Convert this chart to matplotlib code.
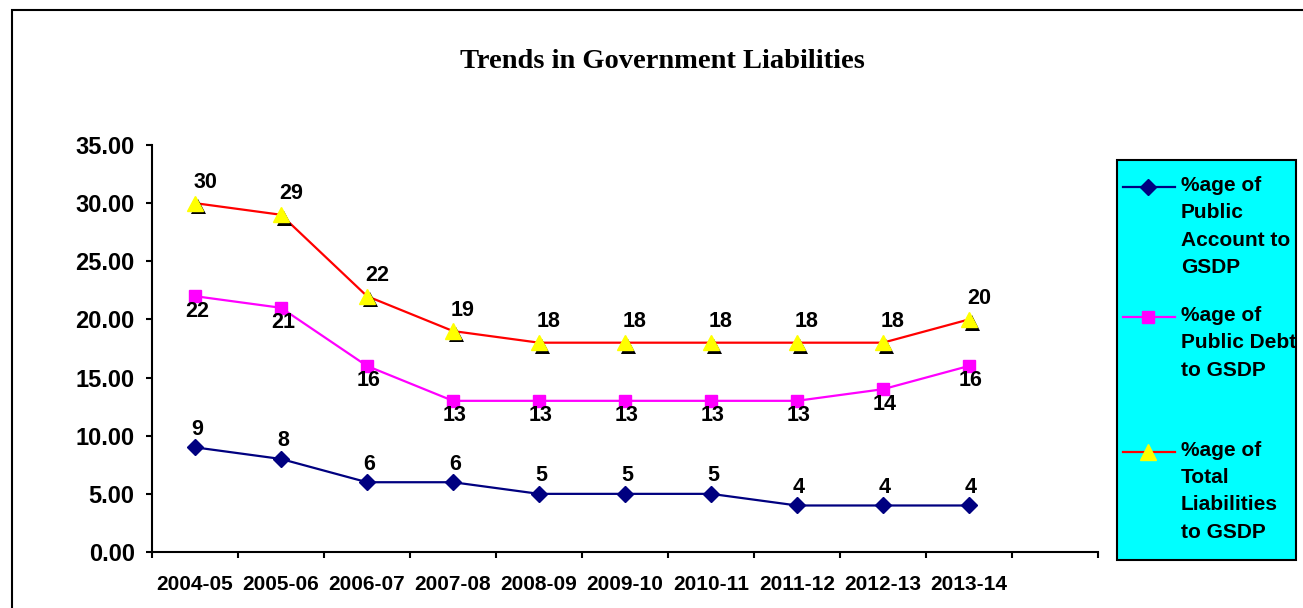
import numpy as np
import matplotlib.pyplot as plt
import matplotlib.patheffects as pe
from matplotlib.patches import Rectangle
from matplotlib.lines import Line2D

years = ['2004-05', '2005-06', '2006-07', '2007-08', '2008-09',
         '2009-10', '2010-11', '2011-12', '2012-13', '2013-14']
public_account = [9, 8, 6, 6, 5, 5, 5, 4, 4, 4]
public_debt = [22, 21, 16, 13, 13, 13, 13, 13, 14, 16]
total_liab = [30, 29, 22, 19, 18, 18, 18, 18, 18, 20]
names = ['%age of\nPublic\nAccount to\nGSDP',
         '%age of\nPublic Debt\nto GSDP',
         '%age of\nTotal\nLiabilities\nto GSDP']

plt.rcParams['font.family'] = ['Liberation Sans', 'DejaVu Sans']
plt.rcParams['font.weight'] = 'bold'

W, H = 1303, 608
fig = plt.figure(figsize=(W / 100, H / 100), dpi=100)

def fx(px):
    return px / W

def fy(py):
    return 1 - py / H

ax = fig.add_axes([fx(152), fy(552), (1098 - 152) / W, (552 - 145) / H])
x = np.arange(len(years))

navy, magenta, red, yellow = '#000080', '#FF00FF', '#FF0000', '#FFFF00'
shadow = [pe.SimplePatchShadow(offset=(2.5, -2.5), shadow_rgbFace='black', alpha=1.0), pe.Normal()]

ax.plot(x, public_account, color=navy, lw=1.6, marker='D', ms=8.5,
        mfc=navy, mec=navy, zorder=3)
ax.plot(x, public_debt, color=magenta, lw=1.6, marker='s', ms=8.5,
        mfc=magenta, mec=magenta, zorder=3)
ax.plot(x, total_liab, color=red, lw=1.6, zorder=3)
ax.plot(x, total_liab, ls='none', marker='^', ms=11, mfc=yellow, mec=yellow,
        path_effects=shadow, zorder=4)

# data labels
for vals, off in [(total_liab, (10, 21)), (public_debt, (2, -15)), (public_account, (2, 18))]:
    for i, v in enumerate(vals):
        ax.annotate(f'{v}', (i, v), xytext=off, textcoords='offset pixels',
                    ha='center', va='center', fontsize=15.5, fontweight='bold')

ax.set_xlim(-0.5, 10.5)
ax.set_ylim(0, 35)
ax.set_yticks(np.arange(0, 36, 5))
ax.set_yticklabels([f'{t:.2f}' for t in np.arange(0, 36, 5)])
ax.set_xticks(np.arange(-0.5, 11, 1))
ax.set_xticklabels([])
ax.set_xticks(x, minor=True)
ax.set_xticklabels(years, minor=True)
ax.tick_params(axis='x', which='major', length=4.5, width=1.5, direction='out')
ax.tick_params(axis='x', which='minor', length=0, pad=16.5, labelsize=15)
ax.tick_params(axis='y', length=4.5, width=1.5, pad=8, labelsize=17)
for s in ['top', 'right']:
    ax.spines[s].set_visible(False)
for s in ['left', 'bottom']:
    ax.spines[s].set_linewidth(1.5)

fig.text(fx(662), fy(61), 'Trends in Government Liabilities', ha='center', va='center',
         fontsize=20.5, fontweight='bold', family='Liberation Serif')

# outer frame
fig.add_artist(Rectangle((fx(12), -0.2), 1.2, fy(10) + 0.2, transform=fig.transFigure,
                         fill=False, lw=1.5, ec='black'))

# legend box
fig.add_artist(Rectangle((fx(1117), fy(560)), (1296 - 1117) / W, (560 - 160) / H,
                         transform=fig.transFigure, fc='#00FFFF', ec='black', lw=1.5))
leg_y = [187, 317, 452]
styles = [dict(color=navy, marker='D', ms=8.5, mfc=navy, mec=navy),
          dict(color=magenta, marker='s', ms=8.5, mfc=magenta, mec=magenta),
          dict(color=red, marker='^', ms=11, mfc=yellow, mec=yellow)]
for yy, st, name in zip(leg_y, styles, names):
    fig.add_artist(Line2D([fx(1123), fx(1175)], [fy(yy), fy(yy)], lw=1.6,
                          transform=fig.transFigure, color=st['color']))
    fig.add_artist(Line2D([fx(1148)], [fy(yy)], ls='none', marker=st['marker'], ms=st['ms'],
                          mfc=st['mfc'], mec=st['mec'], transform=fig.transFigure))
    fig.text(fx(1181), fy(yy - 11), name, ha='left', va='top', fontsize=15,
             fontweight='bold', linespacing=1.55)

fig.savefig('out.png', dpi=100)
